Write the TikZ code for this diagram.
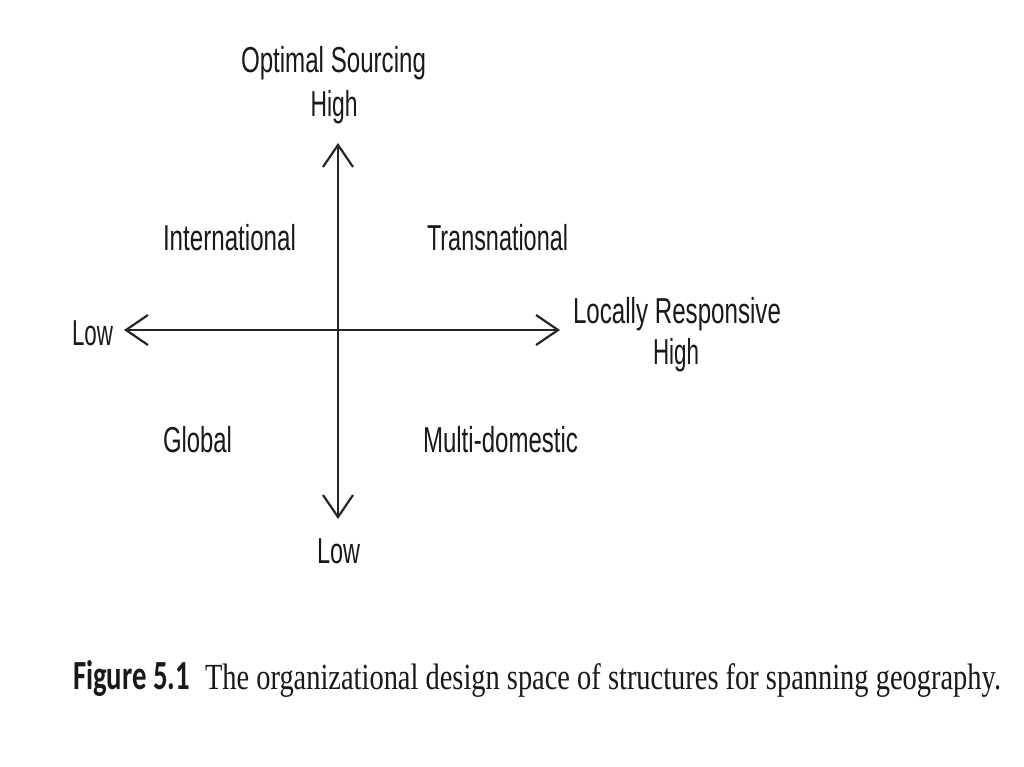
\documentclass[tikz,border=0pt]{standalone}
\usepackage{fontspec}
\usepackage{graphicx}
\usetikzlibrary{arrows.meta}
\setmainfont{Liberation Sans}
\newfontfamily\lblfont{Liberation Sans}
\newfontfamily\capsans{Carlito}
\newfontfamily\capserif{Liberation Serif}
\newcommand{\fitw}[2]{\resizebox{#1pt}{1.06\height}{#2}}
\newcommand{\fitc}[2]{\resizebox{#1pt}{1.15\height}{#2}}
\tikzset{
  lbl/.style={inner sep=0pt, outer sep=0pt, text=black!90, font=\lblfont\fontsize{34pt}{40pt}\selectfont},
  capl/.style={inner sep=0pt, outer sep=0pt, text=black!90},
  axis/.style={draw=black!85, line width=2.2pt, -{Straight Barb[length=22pt, width=30pt, line width=2.2pt]}}
}
\begin{document}
\begin{tikzpicture}[x=1pt, y=-1pt]
\useasboundingbox[fill=white] (0,0) rectangle (1024,767);
% axis end points
\coordinate (C) at (338,330);
\coordinate (Lt) at (124,330);
\coordinate (Rt) at (560,330);
\coordinate (Tt) at (338,143);
\coordinate (Bt) at (338,519);
\draw[axis] (C) -- (Lt);
\draw[axis] (C) -- (Rt);
\draw[axis] (C) -- (Tt);
\draw[axis] (C) -- (Bt);
% labels
\node[lbl, anchor=base] (opt) at (333.5,73) {\fitw{185}{Optimal Sourcing}};
\node[lbl, anchor=base] (high1) at (334,117) {\fitw{47}{High}};
\node[lbl, anchor=base] (loc) at (677,323) {\fitw{208}{Locally Responsive}};
\node[lbl, anchor=base] (high2) at (676,364) {\fitw{46}{High}};
\node[lbl, anchor=base west] (intl) at (163,250) {\fitw{133}{International}};
\node[lbl, anchor=base west] (trans) at (427,250) {\fitw{141}{Transnational}};
\node[lbl, anchor=base west] (glob) at (163,452) {\fitw{69}{Global}};
\node[lbl, anchor=base west] (multi) at (423,452) {\fitw{155}{Multi-domestic}};
\node[lbl, anchor=base west] (lowl) at (72,345) {\fitw{41}{Low}};
\node[lbl, anchor=base west] (lowb) at (317,563) {\fitw{43}{Low}};
% caption
\node[capl, anchor=base west, font=\capsans\bfseries\fontsize{36pt}{40pt}\selectfont] (fig) at (73,689) {\fitc{117}{Figure 5.1}};
\node[capl, anchor=base west, font=\capserif\fontsize{32pt}{38pt}\selectfont] (captxt) at (205,689) {\fitc{796}{The organizational design space of structures for spanning geography.}};
\end{tikzpicture}
\end{document}
